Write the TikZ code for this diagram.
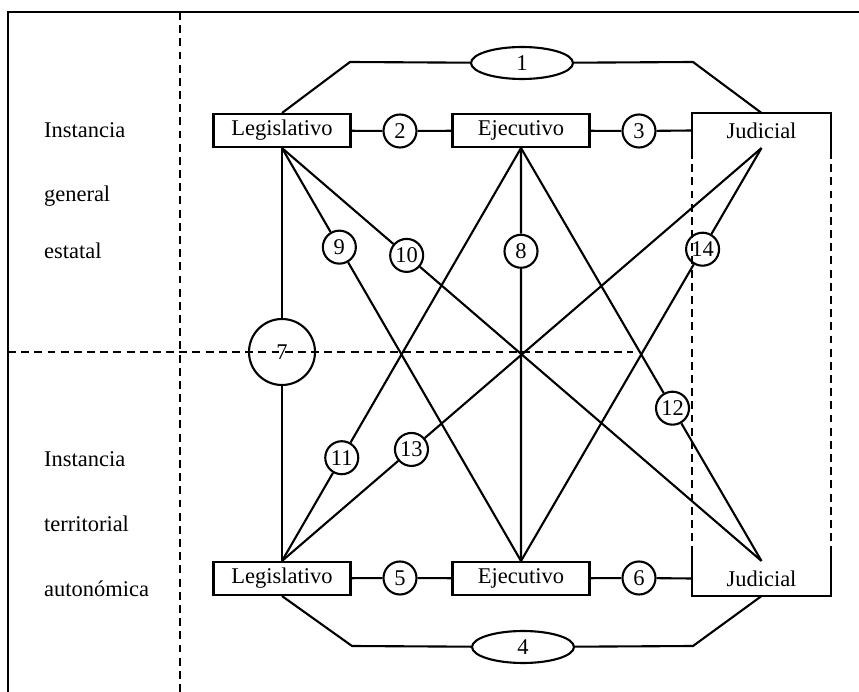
\documentclass[tikz,border=0pt]{standalone}
\usepackage{fontspec}
\setmainfont{Liberation Serif}
\usetikzlibrary{shapes.geometric,calc}
\begin{document}
\begin{tikzpicture}[x=0.02cm, y=-0.02cm, line width=1.2pt,
        every node/.style={font=\fontsize{12.8}{15}\selectfont, inner sep=0pt},
        organo/.style={draw, minimum width=2.74cm, minimum height=0.66cm},
        judic/.style={minimum width=2.74cm, minimum height=0.66cm},
        relnum/.style={draw, circle, minimum size=0.66cm},
        relova/.style={draw, ellipse, minimum width=2.04cm, minimum height=0.64cm},
        sep/.style={dash pattern=on 4.5pt off 3pt}]
        \useasboundingbox (0,0) rectangle (859,692);

        % Frame and separators
        \draw[line width=1.7pt] (8,692) -- (8,12) -- (859,12);
        \draw[sep] (180,12) -- (180,692);
        \draw[sep] (8,352) -- (633,352);

        % Level labels
        \node[anchor=west] (inst1) at (43,130) {Instancia};
        \node[anchor=west] (gen) at (43,196) {general};
        \node[anchor=west] (est) at (43,251) {estatal};
        \node[anchor=west] (inst2) at (43,459) {Instancia};
        \node[anchor=west] (terr) at (43,524) {territorial};
        \node[anchor=west] (auton) at (43,589) {autonómica};

        % Powers, general level
        \node[organo] (legtop) at (282,130.5) {Legislativo};
        \node[organo] (ejtop) at (521,130.5) {Ejecutivo};
        \node[judic] (judtop) at (761.5,130.5) {Judicial};

        % Powers, territorial level
        \node[organo] (legbot) at (282,578.5) {Legislativo};
        \node[organo] (ejbot) at (521,578.5) {Ejecutivo};
        \node[judic] (judbot) at (761.5,578.5) {Judicial};

        % Judicial frame
        \draw ($(judtop.south west)+(0,3)$) -- (judtop.north west) -- (judtop.north east) -- ($(judtop.south east)+(0,3)$);
        \draw ($(judbot.north west)+(0,-8)$) -- (judbot.south west) -- (judbot.south east) -- ($(judbot.north east)+(0,-8)$);
        \draw[sep] ($(judtop.south west)+(0,3)$) -- ($(judbot.north west)+(0,-8)$);
        \draw[sep] ($(judtop.south east)+(0,3)$) -- ($(judbot.north east)+(0,-8)$);

        % Relations on each level
        \node[relova] (r1) at (522,63) {1};
        \node[relnum] (r2) at (400,131) {2};
        \node[relnum] (r3) at (639,131) {3};
        \node[relova] (r4) at (523,647) {4};
        \node[relnum] (r5) at (400,578) {5};
        \node[relnum] (r6) at (639,578) {6};

        \coordinate (b1) at (350,62);
        \coordinate (b2) at (693,62);
        \coordinate (b3) at (352,646);
        \coordinate (b4) at (693,646);

        \draw (legtop) -- (r2) -- (ejtop) -- (r3) -- (judtop.west);
        \draw (legbot) -- (r5) -- (ejbot) -- (r6) -- (judbot.west);
        \draw (legtop.north) -- (b1) -- (r1) -- (b2) -- (judtop.north);
        \draw (legbot.south) -- (b3) -- (r4) -- (b4) -- (judbot.south);

        % Relations between levels
        \node[relnum, minimum size=1.32cm] (r7) at (282,352) {7};
        \node[relnum] (r8) at ($(ejtop.south)!0.25!(ejbot.north)$) {8};
        \node[relnum] (r9) at ($(legtop.south)!0.24!(ejbot.north)$) {9};
        \node[relnum] (r10) at ($(legtop.south)!0.26!(judbot.north)$) {10};
        \node[relnum] (r11) at ($(ejtop.south)!0.75!(legbot.north)$) {11};
        \node[relnum] (r12) at ($(ejtop.south)!0.63!(judbot.north)$) {12};
        \node[relnum] (r13) at ($(judtop.south)!0.73!(legbot.north)$) {13};
        \node[relnum] (r14) at ($(judtop.south)!0.245!(ejbot.north)$) {14};

        \draw (legtop.south) -- (r7) -- (legbot.north);
        \draw (ejtop.south) -- (r8) -- (ejbot.north);
        \draw (legtop.south) -- (r9) -- (ejbot.north);
        \draw (legtop.south) -- (r10) -- (judbot.north);
        \draw (ejtop.south) -- (r11) -- (legbot.north);
        \draw (ejtop.south) -- (r12) -- (judbot.north);
        \draw (judtop.south) -- (r13) -- (legbot.north);
        \draw (judtop.south) -- (r14) -- (ejbot.north);
\end{tikzpicture}
\end{document}
